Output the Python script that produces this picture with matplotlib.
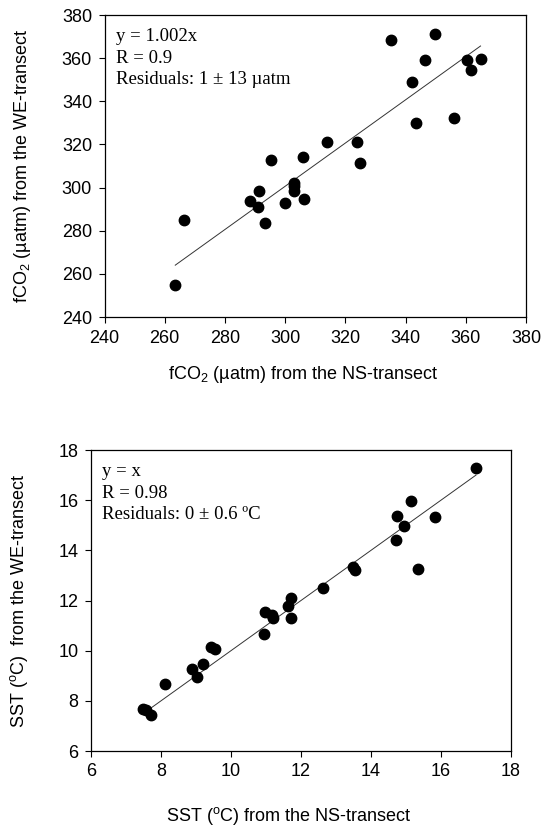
import numpy as np
import matplotlib
matplotlib.use("Agg")
import matplotlib.pyplot as plt

plt.rcParams['font.family'] = ['Liberation Sans', 'DejaVu Sans']
plt.rcParams['mathtext.fontset'] = 'custom'
plt.rcParams['mathtext.rm'] = 'Liberation Sans'
plt.rcParams['mathtext.it'] = 'Liberation Sans:italic'

# fCO2 comparison (NS vs WE transect)
fco2_ns = [263.5, 266.4, 288.2, 291.2, 291.0, 293.3, 295.2, 300.1, 302.8, 302.8,
           302.8, 305.8, 306.2, 313.8, 323.8, 324.7, 335.2, 342.1, 343.4, 346.5,
           349.9, 356.1, 360.5, 361.7, 364.9]
fco2_we = [255.0, 285.0, 294.0, 298.3, 290.9, 283.7, 312.9, 293.0, 302.3, 300.5,
           298.6, 314.4, 294.7, 320.9, 321.1, 311.6, 368.2, 349.0, 329.9, 359.2,
           371.2, 332.1, 359.2, 354.6, 359.8]
fco2_slope = 1.002
fco2_text = ["y = 1.002x", "R = 0.9", "Residuals: 1 \u00b1 13 \u00b5atm"]

# SST comparison
sst_ns = [7.48, 7.58, 7.70, 8.11, 8.88, 9.04, 9.21, 9.44, 9.55, 10.93,
          10.97, 11.17, 11.21, 11.63, 11.70, 11.72, 12.62, 13.48, 13.55, 14.71,
          14.73, 14.93, 15.14, 15.33, 15.82, 17.00]
sst_we = [7.66, 7.62, 7.45, 8.67, 9.26, 8.97, 9.46, 10.15, 10.08, 10.68,
          11.54, 11.41, 11.30, 11.77, 12.11, 11.29, 12.48, 13.35, 13.21, 14.42,
          15.36, 14.96, 15.98, 13.27, 15.32, 17.28]
sst_slope = 1.0
sst_text = ["y = x", "R = 0.98", "Residuals: 0 \u00b1 0.6 \u00baC"]

W, H = 547, 830
fig = plt.figure(figsize=(W / 100, H / 100), dpi=100)


def px_axes(x0, y0, x1, y1):
    return fig.add_axes([x0 / W, 1 - y1 / H, (x1 - x0) / W, (y1 - y0) / H])


def style(ax, lims, ticks):
    ax.set_xlim(lims)
    ax.set_ylim(lims)
    ax.set_xticks(ticks)
    ax.set_yticks(ticks)
    ax.tick_params(direction='out', length=4, width=0.8, labelsize=13,
                   top=False, right=False, pad=5)
    for s in ax.spines.values():
        s.set_linewidth(0.9)


def panel(ax, xs, ys, slope, lines):
    xs = np.array(xs)
    ax.plot(xs, ys, 'o', color='black', markersize=7.5, zorder=3)
    xl = np.array([xs.min(), xs.max()])
    ax.plot(xl, slope * xl, '-', color='#333333', lw=0.7, zorder=2)
    for i, t in enumerate(lines):
        ax.annotate(t, xy=(0, 1), xycoords='axes fraction',
                    xytext=(8, -19 - i * 15.5), textcoords='offset points',
                    family=['Liberation Serif', 'DejaVu Serif'], fontsize=13.5,
                    ha='left', va='baseline')


# top panel
ax1 = px_axes(104.5, 15, 526, 317)
style(ax1, (240, 380), np.arange(240, 381, 20))
panel(ax1, fco2_ns, fco2_we, fco2_slope, fco2_text)
ax1.set_xlabel('fCO$_2$ (\u00b5atm) from the NS-transect', fontsize=13)
ax1.set_ylabel('fCO$_2$ (\u00b5atm) from the WE-transect', fontsize=13)
ax1.xaxis.set_label_coords(0.47, -0.155)
ax1.yaxis.set_label_coords(-0.17, 0.5)

# bottom panel
ax2 = px_axes(91, 450, 511, 751)
style(ax2, (6, 18), np.arange(6, 19, 2))
panel(ax2, sst_ns, sst_we, sst_slope, sst_text)
ax2.set_xlabel(r'SST ($^{\mathrm{o}}$C) from the NS-transect', fontsize=13)
ax2.set_ylabel(r'SST ($^{\mathrm{o}}$C)  from the WE-transect', fontsize=13)
ax2.xaxis.set_label_coords(0.47, -0.18)
ax2.yaxis.set_label_coords(-0.145, 0.5)

fig.savefig("out.png", dpi=100)
